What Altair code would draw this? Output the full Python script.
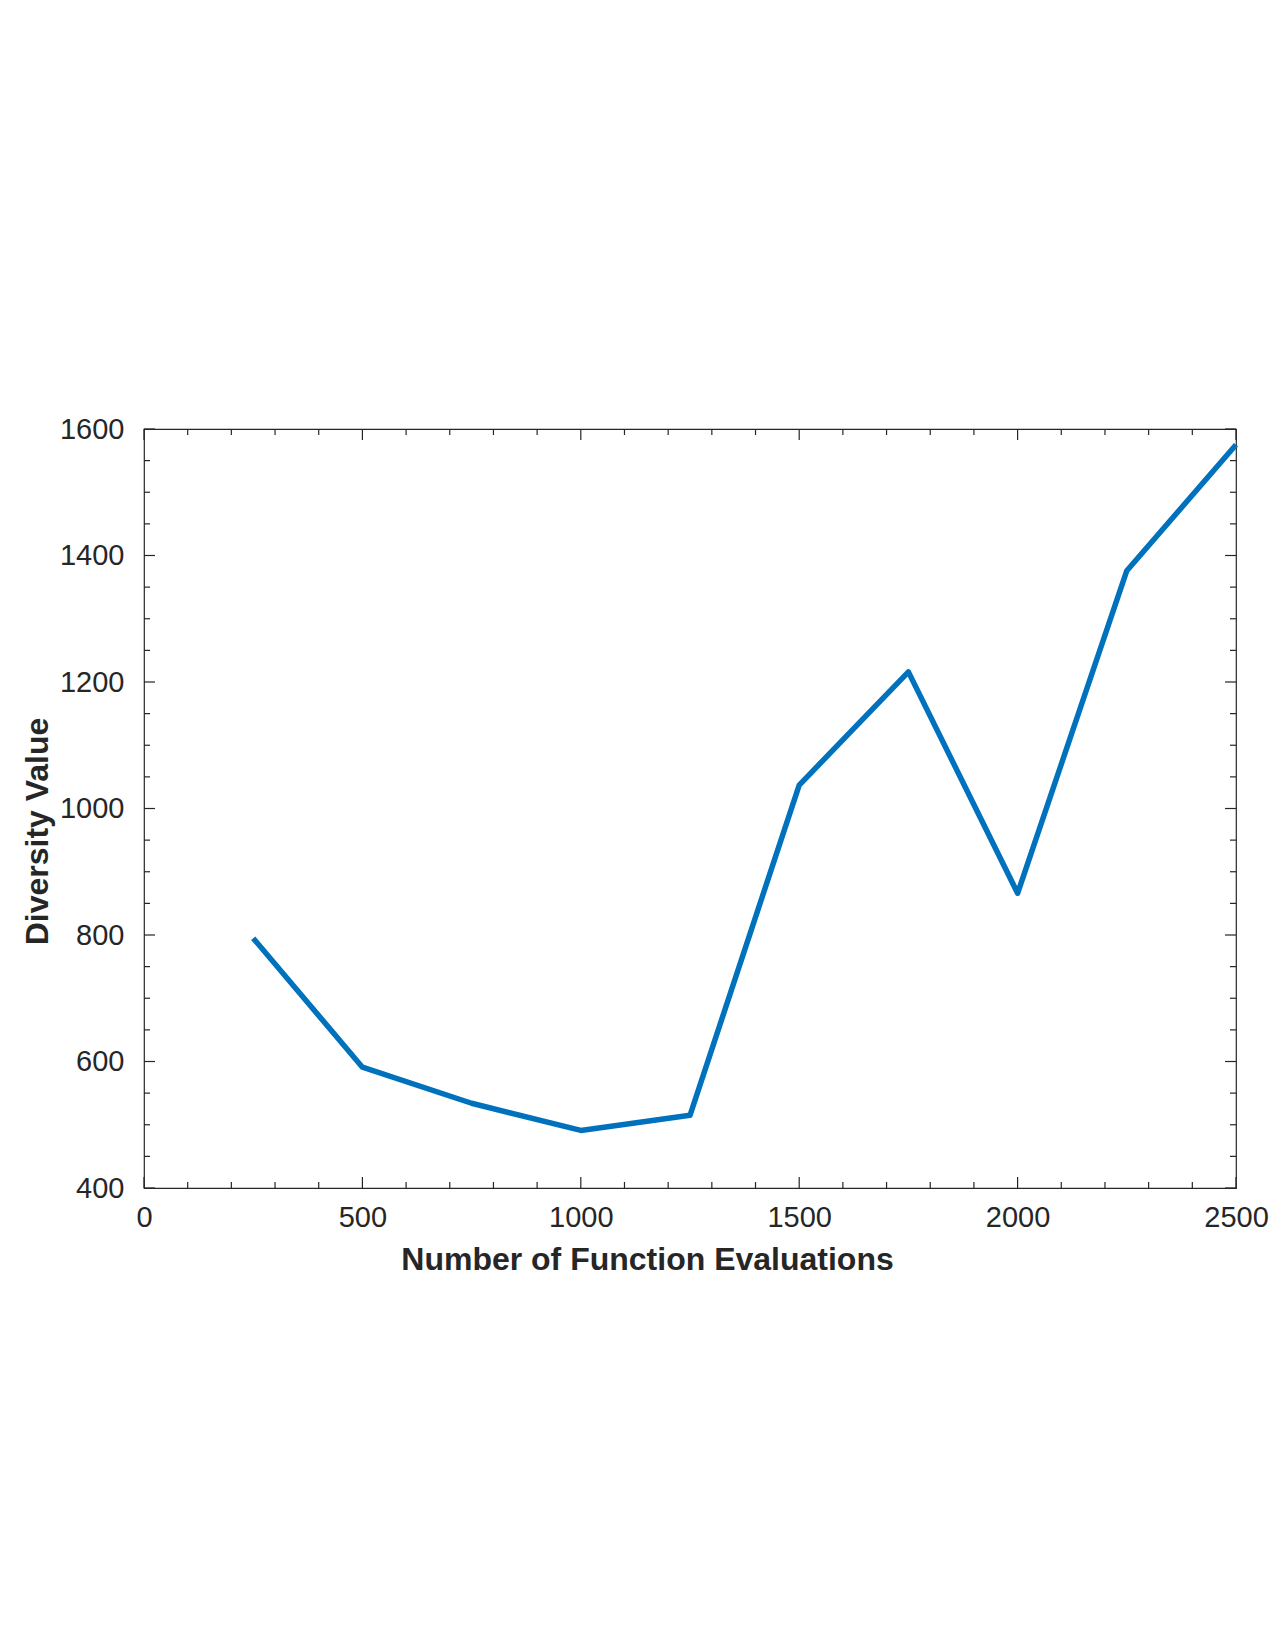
import altair as alt
import pandas as pd

# ---- data ----
evals = [250, 500, 750, 1000, 1250, 1500, 1750, 2000, 2250, 2500]
diversity = [795, 591, 534, 491, 515, 1037, 1216, 866, 1376, 1575]

x_major = [0, 500, 1000, 1500, 2000, 2500]
x_minor = [v for v in range(100, 2500, 100) if v % 500 != 0]
y_major = [400, 600, 800, 1000, 1200, 1400, 1600]
y_minor = [v for v in range(450, 1600, 50) if v % 200 != 0]

W, H = 1092, 759
MAJ, MIN = 11, 6
INK = "#262626"
FONT = "Liberation Sans"

line_df = pd.DataFrame({"evals": evals, "diversity": diversity})
xmaj_df = pd.DataFrame({"t": x_major})
xmin_df = pd.DataFrame({"t": x_minor})
ymaj_df = pd.DataFrame({"t": y_major})
ymin_df = pd.DataFrame({"t": y_minor})

xscale = alt.Scale(domain=[0, 2500], nice=False, zero=False)
yscale = alt.Scale(domain=[400, 1600], nice=False, zero=False)

line = alt.Chart(line_df).mark_line(color="#0072BD", strokeWidth=5.5, strokeJoin="round").encode(
    x=alt.X("evals:Q", scale=xscale,
            axis=alt.Axis(title="Number of Function Evaluations", values=x_major, format="d",
                          ticks=False, tickSize=0, grid=False, domain=False,
                          labelPadding=38, labelBaseline="alphabetic",
                          labelFont=FONT, labelFontSize=29, labelColor=INK,
                          labelFlush=False, labelOverlap=False,
                          titleFont=FONT, titleFontSize=32, titleFontWeight="bold",
                          titleColor=INK, titleX=503, titleY=81, titleAlign="center",
                          titleBaseline="alphabetic")),
    y=alt.Y("diversity:Q", scale=yscale,
            axis=alt.Axis(title="Diversity Value", values=y_major, format="d",
                          ticks=False, tickSize=0, grid=False, domain=False,
                          labelPadding=20, labelFont=FONT, labelFontSize=29,
                          labelColor=INK, labelFlush=False, labelOverlap=False,
                          titleFont=FONT, titleFontSize=32, titleFontWeight="bold",
                          titleColor=INK, titleX=-97, titleY=402, titleAlign="center",
                          titleBaseline="alphabetic", titleAngle=270)),
)


def xticks(df, length):
    bottom = alt.Chart(df).mark_rule(color=INK, strokeWidth=1.2).encode(
        x=alt.X("t:Q", scale=xscale, axis=None),
        y=alt.value(H), y2=alt.value(H - length))
    top = alt.Chart(df).mark_rule(color=INK, strokeWidth=1.2).encode(
        x=alt.X("t:Q", scale=xscale, axis=None),
        y=alt.value(0), y2=alt.value(length))
    return [bottom, top]


def yticks(df, length):
    left = alt.Chart(df).mark_rule(color=INK, strokeWidth=1.2).encode(
        y=alt.Y("t:Q", scale=yscale, axis=None),
        x=alt.value(0), x2=alt.value(length))
    right = alt.Chart(df).mark_rule(color=INK, strokeWidth=1.2).encode(
        y=alt.Y("t:Q", scale=yscale, axis=None),
        x=alt.value(W), x2=alt.value(W - length))
    return [left, right]


layers = [line] + xticks(xmaj_df, MAJ) + xticks(xmin_df, MIN) + yticks(ymaj_df, MAJ) + yticks(ymin_df, MIN)

chart = alt.layer(*layers).resolve_axis(x="independent", y="independent").properties(
    width=W, height=H,
    autosize=alt.AutoSizeParams(type="none"),
    padding={"left": 144, "top": 429, "right": 38, "bottom": 462},
    background="white",
).configure_view(stroke=INK, strokeWidth=1.2)

chart.save("out.html", embed_options={"renderer": "svg", "actions": False})
